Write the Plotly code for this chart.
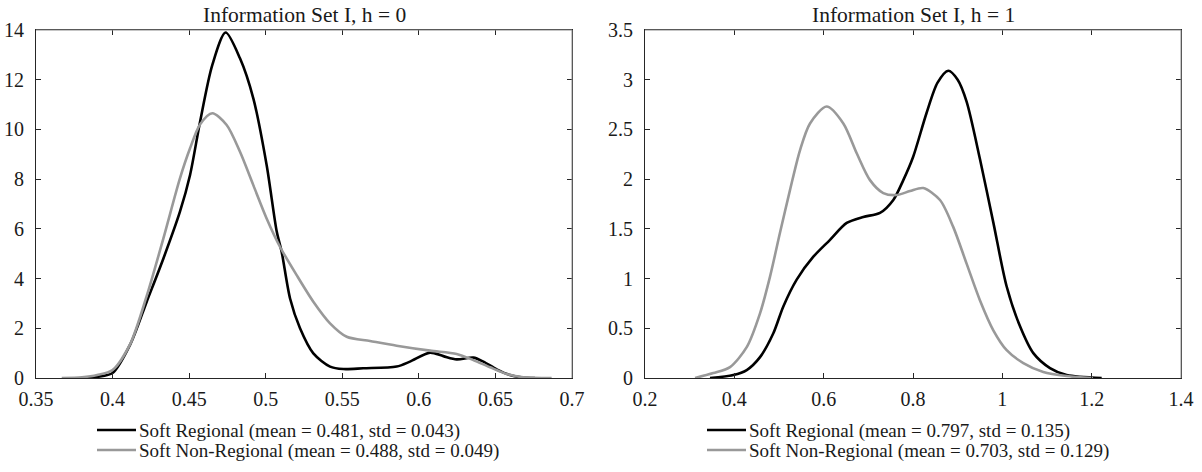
import plotly.graph_objects as go

# ---------------- data ----------------
titles = ["Information Set I, h = 0", "Information Set I, h = 1"]
series_names = ["Soft Regional", "Soft Non-Regional"]
means_h0 = [0.481, 0.488]
stds_h0 = [0.043, 0.049]
means_h1 = [0.797, 0.703]
stds_h1 = [0.135, 0.129]

# h = 0
x_h0_regional = [0.3807, 0.39, 0.40, 0.4114, 0.4223, 0.4332, 0.444, 0.4506, 0.4571, 0.4651,
                 0.4738, 0.4832, 0.4919, 0.5006, 0.5072, 0.5104, 0.5159, 0.5224, 0.5311, 0.542,
                 0.5507, 0.5637, 0.5855, 0.5942, 0.6073, 0.616, 0.6247, 0.6356, 0.6421, 0.6508,
                 0.6595, 0.668, 0.6758]
y_h0_regional = [0.0, 0.05, 0.2, 1.33, 3.07, 4.81, 6.69, 8.17, 10.3, 12.59,
                 13.9, 12.86, 11.25, 8.57, 5.89, 5.08, 3.2, 2.0, 0.99, 0.46,
                 0.36, 0.39, 0.46, 0.66, 1.02, 0.88, 0.75, 0.82, 0.66, 0.35,
                 0.12, 0.02, 0.0]
x_h0_nonregional = [0.3668, 0.38, 0.39, 0.40, 0.4114, 0.4223, 0.4332, 0.444, 0.4506, 0.4571,
                    0.4651, 0.4745, 0.4832, 0.4919, 0.5006, 0.5093, 0.5202, 0.5311, 0.542, 0.5529,
                    0.5681, 0.5855, 0.6073, 0.6247, 0.6356, 0.6465, 0.6574, 0.6682, 0.6867]
y_h0_nonregional = [0.0, 0.03, 0.12, 0.32, 1.35, 3.3, 5.62, 8.03, 9.24, 10.2,
                    10.65, 10.18, 9.1, 7.76, 6.42, 5.28, 4.14, 3.07, 2.2, 1.66,
                    1.49, 1.30, 1.10, 0.97, 0.72, 0.43, 0.16, 0.03, 0.0]

# h = 1
x_h1_regional = [0.3455, 0.3977, 0.4277, 0.4575, 0.4873, 0.5097, 0.5396, 0.5769, 0.6142, 0.6516,
                 0.6888, 0.7261, 0.7559, 0.7783, 0.80, 0.83, 0.855, 0.879, 0.90, 0.92,
                 0.95, 0.98, 1.0097, 1.0396, 1.0694, 1.1067, 1.144, 1.2224]
y_h1_regional = [0.0, 0.03, 0.08, 0.21, 0.45, 0.72, 0.99, 1.22, 1.39, 1.56,
                 1.62, 1.66, 1.79, 1.99, 2.22, 2.66, 2.97, 3.09, 3.0, 2.78,
                 2.2, 1.56, 0.92, 0.52, 0.25, 0.10, 0.03, 0.0]
x_h1_nonregional = [0.312, 0.353, 0.3903, 0.4277, 0.4575, 0.4799, 0.5022, 0.5246, 0.547, 0.5694,
                    0.6067, 0.644, 0.674, 0.7037, 0.7335, 0.7634, 0.7933, 0.823, 0.8604, 0.89,
                    0.92, 0.95, 0.9798, 1.0097, 1.047, 1.0917, 1.144, 1.203]
y_h1_nonregional = [0.0, 0.05, 0.11, 0.31, 0.65, 1.02, 1.46, 1.89, 2.29, 2.56,
                    2.73, 2.56, 2.26, 1.99, 1.86, 1.84, 1.88, 1.91, 1.79, 1.52,
                    1.15, 0.78, 0.48, 0.28, 0.15, 0.06, 0.02, 0.0]

x_ticks_h0 = [0.35, 0.4, 0.45, 0.5, 0.55, 0.6, 0.65, 0.7]
y_ticks_h0 = [0, 2, 4, 6, 8, 10, 12, 14]
x_ticks_h1 = [0.2, 0.4, 0.6, 0.8, 1.0, 1.2, 1.4]
y_ticks_h1 = [0, 0.5, 1, 1.5, 2, 2.5, 3, 3.5]

# ---------------- styling ----------------
W, H = 1202, 472
FONT = "Liberation Serif"
TXT = "#1a1a1a"
AX = "#262626"
colors = ["#000000", "#999999"]
LW = 2.6

# plot boxes in pixels
left_box = (36, 572)
right_box = (645, 1181)
top_px, bottom_px = 30, 378


def px2fx(p):
    return p / W


def px2fy(p):
    return 1 - p / H


fig = go.Figure()

panels = [
    ("x", "y", [(x_h0_regional, y_h0_regional), (x_h0_nonregional, y_h0_nonregional)]),
    ("x2", "y2", [(x_h1_regional, y_h1_regional), (x_h1_nonregional, y_h1_nonregional)]),
]
for xa, ya, series in panels:
    for i, (xs, ys) in enumerate(series):
        fig.add_trace(go.Scatter(
            x=xs, y=ys, mode="lines", xaxis=xa, yaxis=ya,
            line=dict(color=colors[i], width=LW, shape="spline", smoothing=0.8),
            name=series_names[i], showlegend=False, hoverinfo="skip",
        ))


def axis_common(tickvals, rng, domain, anchor):
    return dict(
        domain=domain, range=rng, anchor=anchor, automargin=False,
        tickmode="array", tickvals=tickvals,
        ticktext=[("%g" % v) for v in tickvals],
        ticks="inside", ticklen=5, tickwidth=1, tickcolor=AX,
        showline=True, linecolor=AX, linewidth=1, mirror="ticks",
        showgrid=False, zeroline=False,
        tickfont=dict(family=FONT, size=20, color=TXT),
    )


ydom = [px2fy(bottom_px), px2fy(top_px)]
fig.update_layout(
    width=W, height=H,
    margin=dict(l=0, r=0, t=0, b=0),
    paper_bgcolor="white", plot_bgcolor="white",
    showlegend=False,
    xaxis=axis_common(x_ticks_h0, [0.35, 0.7], [px2fx(left_box[0]), px2fx(left_box[1])], "y"),
    yaxis=axis_common(y_ticks_h0, [0, 14], ydom, "x"),
    xaxis2=axis_common(x_ticks_h1, [0.2, 1.4], [px2fx(right_box[0]), px2fx(right_box[1])], "y2"),
    yaxis2=axis_common(y_ticks_h1, [0, 3.5], ydom, "x2"),
)
fig.update_yaxes(ticklabelstandoff=7)
fig.update_xaxes(ticklabelstandoff=3)

# grey top / right box edges (as in reference)
for xr, yr in [("x domain", "y domain"), ("x2 domain", "y2 domain")]:
    fig.add_shape(type="line", xref=xr, yref=yr, x0=0, x1=1, y0=1, y1=1,
                  line=dict(color="#8c8c8c", width=1), layer="above")
    fig.add_shape(type="line", xref=xr, yref=yr, x0=1, x1=1, y0=0, y1=1,
                  line=dict(color="#8c8c8c", width=1), layer="above")

# titles
for title, box in zip(titles, [left_box, right_box]):
    fig.add_annotation(
        text=title, xref="paper", yref="paper",
        x=px2fx((box[0] + box[1]) / 2), y=px2fy(15),
        xanchor="center", yanchor="middle", showarrow=False,
        font=dict(family=FONT, size=21.5, color=TXT),
    )

# legends (below each panel)
legend_specs = [
    (97, [means_h0, stds_h0]),
    (707, [means_h1, stds_h1]),
]
row_y = [431, 451]
for x0, (means, stds) in legend_specs:
    for i in range(2):
        label = "%s (mean = %.3f, std = %.3f)" % (series_names[i], means[i], stds[i])
        fig.add_shape(type="line", xref="paper", yref="paper",
                      x0=px2fx(x0), x1=px2fx(x0 + 39),
                      y0=px2fy(row_y[i] - 1), y1=px2fy(row_y[i] - 1),
                      line=dict(color=colors[i], width=LW))
        fig.add_annotation(
            text=label, xref="paper", yref="paper",
            x=px2fx(x0 + 40), y=px2fy(row_y[i]),
            xanchor="left", yanchor="middle", showarrow=False,
            font=dict(family=FONT, size=19, color=TXT),
        )

fig.write_html("out.html")
